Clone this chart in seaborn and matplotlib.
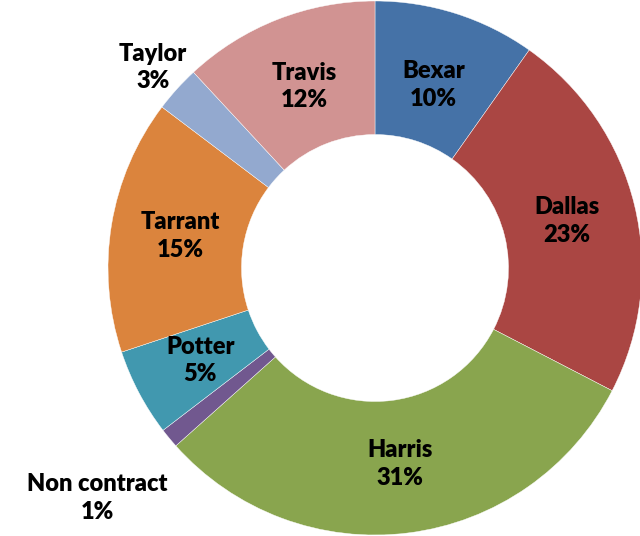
import numpy as np
import matplotlib
matplotlib.use("Agg")
from matplotlib import pyplot as plt
import seaborn as sns

# data (percent of total, clockwise from 12 o'clock)
counties = ["Bexar", "Dallas", "Harris", "Non contract", "Potter", "Tarrant", "Taylor", "Travis"]
shares = [9.8, 22.8, 30.8, 1.2, 5.3, 15.4, 2.8, 11.9]
colors = ["#4572A7", "#AA4643", "#89A54E", "#71588F", "#4198AF", "#DB843D", "#93A9CF", "#D19392"]

# label distance from centre (1 = outer edge of the ring)
label_r = [0.72, 0.74, 0.74, 1.35, 0.74, 0.74, 1.12, 0.73]

sns.set_theme(style="white")
plt.rcParams['font.family'] = ['Lato', 'DejaVu Sans']

fig = plt.figure(figsize=(6.4, 5.36), dpi=100)
ax = fig.add_axes([108 / 640, 1 / 536, 534 / 640, 534 / 536])

wedges, _ = ax.pie(shares, colors=sns.color_palette(colors), startangle=90,
                   counterclock=False, radius=1.0,
                   wedgeprops=dict(width=0.5, edgecolor="white", linewidth=0.3))

# put labels at the middle angle of each wedge
total = sum(shares)
cum = 0.0
for name, val, r in zip(counties, shares, label_r):
    mid = 90 - (cum + val / 2) / total * 360
    cum += val
    x = r * np.cos(np.radians(mid))
    y = r * np.sin(np.radians(mid))
    ax.text(x, y, "%s\n%d%%" % (name, round(val)), ha="center", va="center",
            fontsize=17, fontweight="heavy", color="black", linespacing=1.32)

ax.set_xlim(-1, 1)
ax.set_ylim(-1, 1)
ax.set_aspect("equal")
ax.axis("off")

fig.savefig("out.png", dpi=100)
